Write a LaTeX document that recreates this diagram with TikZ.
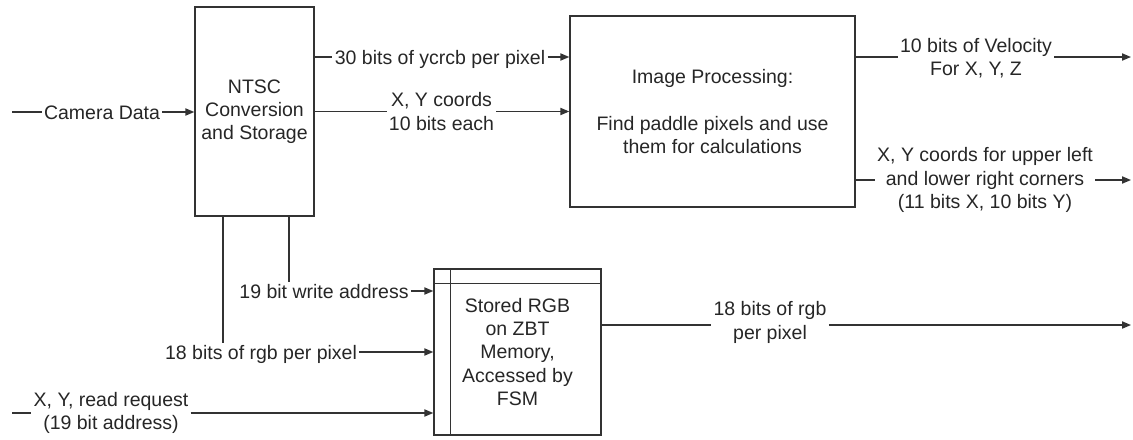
\documentclass[tikz,border=0pt]{standalone}
\usepackage{fontspec}
\setmainfont{Liberation Sans}
\usetikzlibrary{arrows.meta,calc}
\colorlet{lc}{black!80}
\begin{document}
\begin{tikzpicture}[x=0.5pt,y=-0.5pt,
  every node/.style={font=\fontsize{9.75pt}{11.6pt}\selectfont, text=black!85, inner sep=1pt},
  box/.style={draw=lc, line width=0.7pt, rectangle, align=center},
  lbl/.style={align=center, inner sep=1pt},
  sl/.style={text height=7pt, text depth=0pt},
  wire/.style={draw=lc, line width=0.7pt},
  arr/.style={wire, -{Triangle[length=4.5pt,width=3.6pt]}}]
\useasboundingbox (0,0) rectangle (1133,439);

% blocks
\node[box, minimum width=59.5pt, minimum height=104.5pt] (ntsc) at (254.5,111.5) {NTSC\\Conversion\\and Storage};
\node[box, minimum width=142.5pt, minimum height=95.5pt] (imgp) at (712.5,111.5) {Image Processing:\\[11.6pt]Find paddle pixels and use\\them for calculations};
\node[box, minimum width=83.5pt, minimum height=83pt] (mem) at (517.5,352) {Stored RGB\\on ZBT\\Memory,\\Accessed by\\FSM};
\draw[wire] ($(mem.north west)+(17,0)$) -- ($(mem.south west)+(17,0)$);
\draw[wire] ($(mem.north west)+(0,15)$) -- ($(mem.north east)+(0,15)$);

% camera input
\coordinate (camin) at (12,112);
\node[lbl,sl] (camlbl) at (102,112) {Camera Data};
\draw[wire] (camin) -- (camlbl.west);
\draw[arr] (camlbl.east) -- (ntsc.west |- camlbl.east);

% ntsc -> image processing
\node[lbl,sl] (ycrcb) at (440,57) {30 bits of ycrcb per pixel};
\draw[wire] (ntsc.east |- ycrcb) -- (ycrcb.west);
\draw[arr] (ycrcb.east) -- (imgp.west |- ycrcb);

\node[lbl] (xy) at (441.5,111.5) {X, Y coords\\10 bits each};
\draw[wire] (ntsc.east |- xy) -- (xy.west);
\draw[arr] (xy.east) -- (imgp.west |- xy);

% image processing outputs
\node[lbl] (vel) at (976,58) {10 bits of Velocity\\For X, Y, Z};
\coordinate (velout) at (1131,57);
\draw[wire] (imgp.east |- velout) -- (vel.west |- velout);
\draw[arr] (vel.east |- velout) -- (velout);

\node[lbl] (corn) at (985,180) {X, Y coords for upper left\\and lower right corners\\(11 bits X, 10 bits Y)};
\coordinate (cornout) at (1131,180);
\draw[wire] (imgp.east |- corn) -- (corn.west);
\draw[arr] (corn.east) -- (cornout);

% ntsc -> memory
\node[lbl,sl] (wa) at (324,291) {19 bit write address};
\coordinate (wtap) at ($(ntsc.south)+(34.5,0)$);
\draw[wire] (wtap) -- (wtap |- wa.north);
\draw[arr] (wa.east) -- (mem.west |- wa);

\node[lbl,sl] (rgbin) at (261,352) {18 bits of rgb per pixel};
\coordinate (rtap) at ($(ntsc.south)+(-31.5,0)$);
\draw[wire] (rtap) -- (rtap |- rgbin.north);
\draw[arr] (rgbin.east) -- (mem.west |- rgbin);

% read request
\node[lbl] (rr) at (111,413) {X, Y, read request\\(19 bit address)};
\coordinate (rrin) at (12,413);
\draw[wire] (rrin) -- (rr.west);
\draw[arr] (rr.east) -- (mem.west |- rr);

% memory output
\node[lbl] (rgbout) at (770,322.5) {18 bits of rgb\\per pixel};
\coordinate (rgbo) at (1131,325);
\draw[wire] (mem.east |- rgbo) -- (rgbout.west |- rgbo);
\draw[arr] (rgbout.east |- rgbo) -- (rgbo);
\end{tikzpicture}
\end{document}
